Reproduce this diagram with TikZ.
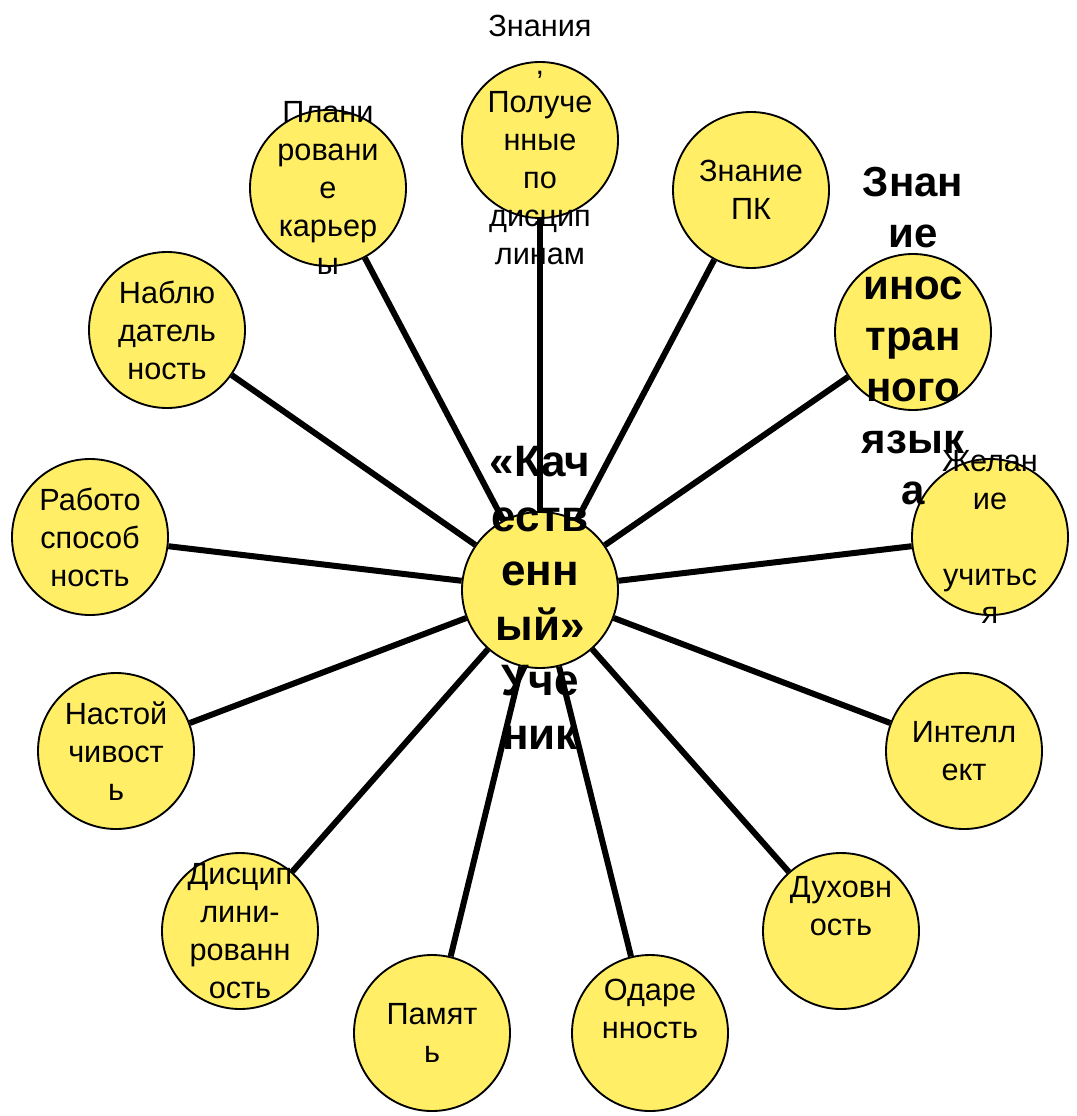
\documentclass[tikz,border=0pt]{standalone}
\usepackage{fontspec}
\setmainfont{Liberation Sans}
\definecolor{amarelo}{RGB}{255,238,102}

\begin{document}
\begin{tikzpicture}[x=0.75pt, y=-0.75pt,
    bolha/.style={circle, draw=black, line width=1.4pt, fill=amarelo, minimum size=117pt, inner sep=0pt},
    raio/.style={line width=4.5pt},
    txt/.style={align=center, font=\fontsize{23}{28.5}\selectfont},
    txtb/.style={align=center, font=\fontsize{31.5}{38.5}\selectfont\bfseries},
    txtc/.style={align=center, font=\fontsize{33}{41}\selectfont\bfseries}]
    \useasboundingbox (0,0) rectangle (1076,1116);

    % Bolhas
    \node[bolha] (centro) at (540,590) {};
    \foreach \nome/\x/\y in {zn/540/140, plan/328/188, pk/751/190, ling/913/332,
        obs/167/330, trab/90/537, des/990/537, pers/116/751, int/964/751,
        disc/240/931, esp/841/931, mem/432/1033, dom/650/1033} {
        \node[bolha] (\nome) at (\x,\y) {};
    }

    % Raios
    \foreach \nome in {zn, plan, pk, ling, obs, trab, des, pers, int, disc, esp, mem, dom} {
        \draw[raio] (centro) -- (\nome);
    }

    % Textos
    \node[txtc] (centro-t) at (540,598) {«Кач\\еств\\енн\\ый»\\Уче\\ник};
    \node[txt] (zn-t) at (zn) {Знания\\,\\Получе\\нные\\по\\дисцип\\линам};
    \node[txt] (plan-t) at (plan) {Плани\\ровани\\е\\карьер\\ы};
    \node[txt] (pk-t) at (pk) {Знание\\ПК};
    \node[txtb] (ling-t) at (913,336) {Знан\\ие\\инос\\тран\\ного\\язык\\а};
    \node[txt] (obs-t) at (obs) {Наблю\\датель\\ность};
    \node[txt] (trab-t) at (trab) {Работо\\способ\\ность};
    \node[txt] (des-t) at (des) {Желан\\ие\\\strut\\учитьс\\я};
    \node[txt] (pers-t) at (pers) {Настой\\чивост\\ь};
    \node[txt] (int-t) at (int) {Интелл\\ект};
    \node[txt] (disc-t) at (disc) {Дисцип\\лини-\\рованн\\ость};
    \node[txt] (esp-t) at (esp) {Духовн\\ость\\\strut};
    \node[txt] (mem-t) at (mem) {Памят\\ь};
    \node[txt] (dom-t) at (dom) {Одаре\\нность\\\strut};
\end{tikzpicture}
\end{document}
